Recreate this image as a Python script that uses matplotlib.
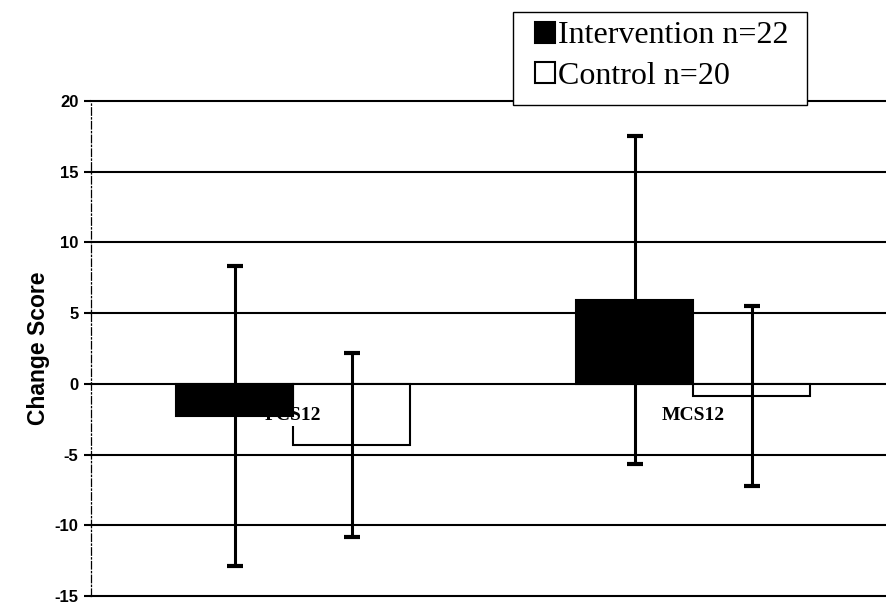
import matplotlib
matplotlib.use('Agg')
import matplotlib.pyplot as plt
from matplotlib.patches import Rectangle
import numpy as np

categories = ['PCS12', 'MCS12']
intervention = [-2.3, 5.9]
intervention_sd = [10.6, 11.6]
control = [-4.3, -0.85]
control_sd = [6.5, 6.35]
yticks = [-15, -10, -5, 0, 5, 10, 15, 20]
legend_labels = ['Intervention n=22', 'Control n=20']

fig = plt.figure(figsize=(8.87, 6.04), dpi=100)
ax = fig.add_axes([0.1026, 0.0132, 0.8974, 0.8196])

x = np.arange(len(categories))
w = 0.2925

# gridlines drawn by hand so the ones at the edges are not clipped
for yv in yticks:
    ax.axhline(yv, color='black', lw=1.5, clip_on=False, zorder=1)

b2 = ax.bar(x + w / 2, control, w, color='white', edgecolor='black',
            lw=1.5, zorder=2, label=legend_labels[1])
b1 = ax.bar(x - w / 2, intervention, w, color='black', edgecolor='black',
            lw=1.5, zorder=3, label=legend_labels[0])
ax.errorbar(x - w / 2, intervention, yerr=intervention_sd, fmt='none',
            ecolor='black', elinewidth=2.2, capsize=6, capthick=3, zorder=4)
ax.errorbar(x + w / 2, control, yerr=control_sd, fmt='none',
            ecolor='black', elinewidth=2.2, capsize=6, capthick=3, zorder=4)

for i, c in enumerate(categories):
    ax.annotate(c, (x[i], 0), xytext=(0, -32), textcoords='offset pixels',
                ha='center', va='center', fontsize=14, fontweight='bold',
                family='Liberation Serif', zorder=2.5,
                bbox=dict(boxstyle='square,pad=0.1', fc='white', ec='none'))

ax.set_xlim(-0.505, 1.485)
ax.set_ylim(-15, 20)
ax.set_yticks(yticks)
ax.set_yticklabels([str(t) for t in yticks], fontsize=12, fontweight='bold',
                   family='Liberation Sans')
ax.tick_params(axis='y', length=5, width=1.5, pad=4)
ax.set_xticks([])
for s in ['top', 'right', 'bottom']:
    ax.spines[s].set_visible(False)
ax.spines['left'].set_linestyle((0, (6, 2, 1, 2)))
ax.spines['left'].set_linewidth(0.9)
ax.set_ylabel('Change Score', fontsize=16.5, fontweight='bold',
              family='Liberation Sans', labelpad=3)

# legend frame, white so it hides the top gridline
fig.patches.append(Rectangle((513 / 887, 1 - 105 / 604), 294 / 887, 93 / 604,
                             transform=fig.transFigure, facecolor='white',
                             edgecolor='black', lw=1.0, zorder=1))
leg = fig.legend(handles=[b1, b2], loc='center left',
                 bbox_to_anchor=(535 / 887, 1 - 56 / 604), borderaxespad=0,
                 prop={'family': 'Liberation Serif', 'size': 23},
                 frameon=False, borderpad=0,
                 handlelength=0.62, handleheight=0.62, handletextpad=0.1,
                 labelspacing=0.35)
leg.legend_handles[1].set_linewidth(1.5)

fig.savefig('out.png', dpi=100)
